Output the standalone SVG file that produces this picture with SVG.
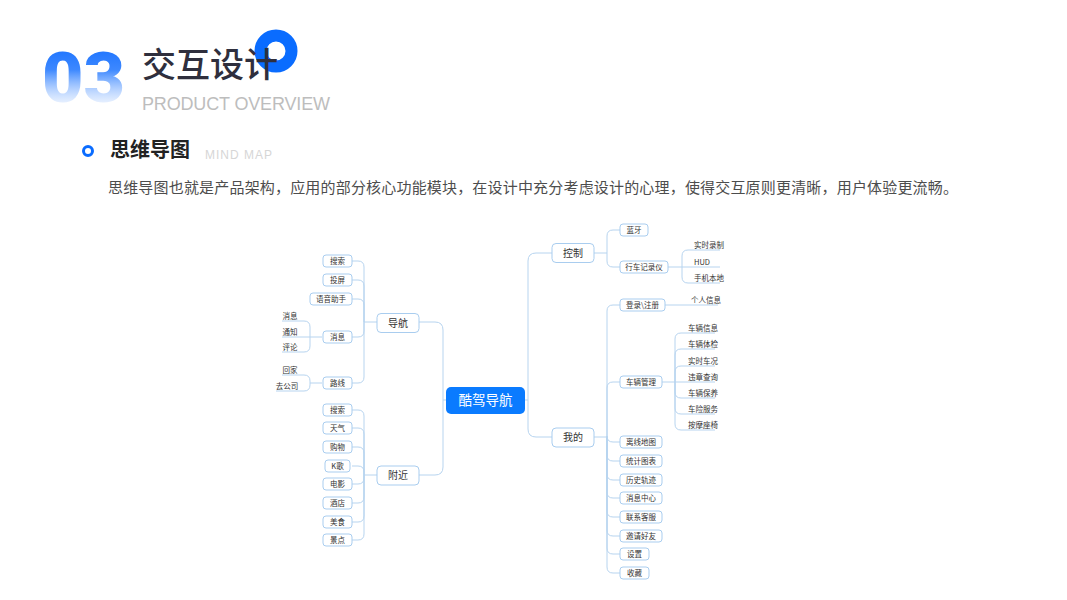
<svg xmlns="http://www.w3.org/2000/svg" width="1067" height="600" viewBox="0 0 1067 600">
<defs>
<linearGradient id="g03" x1="0" y1="0" x2="0" y2="1">
<stop offset="0" stop-color="#0f6bff"/>
<stop offset="0.4" stop-color="#3d88ff"/>
<stop offset="1" stop-color="#ffffff" stop-opacity="0.1"/>
</linearGradient>
<style>
.cn{font-family:"Noto Sans CJK SC","Noto Sans",sans-serif}
.ln{fill:none;stroke:#b7d4ef;stroke-width:1}
.bx{fill:#fff;stroke:#a9cdef;stroke-width:1}
.t8{font-family:"Noto Sans CJK SC","Noto Sans",sans-serif;font-size:7.5px;fill:#333;text-anchor:middle}
.lf{font-family:"Noto Sans CJK SC","Noto Sans",sans-serif;font-size:7.5px;fill:#333}
.t10{font-family:"Noto Sans CJK SC","Noto Sans",sans-serif;font-size:10px;fill:#333;text-anchor:middle}
</style>
</defs>
<rect width="1067" height="600" fill="#ffffff"/>
<g id="header">
<text x="42" y="102" font-family="Roboto,sans-serif" font-weight="900" font-size="70" fill="url(#g03)" textLength="83" lengthAdjust="spacingAndGlyphs">03</text>
<circle cx="276" cy="51" r="15.5" fill="none" stroke="#0a6cff" stroke-width="12"/>
<text x="142" y="77" class="cn" font-size="34" font-weight="500" fill="#2f2f3d">交互设计</text>
<text x="142" y="110" font-family="Liberation Sans,sans-serif" font-size="18" fill="#bdbdbd" textLength="188">PRODUCT OVERVIEW</text>
<circle cx="88" cy="151" r="4.5" fill="none" stroke="#0a6cff" stroke-width="3"/>
<text x="110" y="157" class="cn" font-size="20" font-weight="700" fill="#222">思维导图</text>
<text x="205" y="159" font-family="Liberation Sans,sans-serif" font-size="12" fill="#d6d6d6" textLength="67">MIND MAP</text>
<text x="108" y="193" class="cn" font-size="15" fill="#4d4d4d" textLength="850">思维导图也就是产品架构，应用的部分核心功能模块，在设计中充分考虑设计的心理，使得交互原则更清晰，用户体验更流畅。</text>
</g>
<g id="connectors" class="ln">
<path d="M419 322 H435 Q443 322 443 330 V400 H446"/>
<path d="M419 475 H435 Q443 475 443 467 V400"/>
<path d="M525 400 H528"/>
<path d="M528 400 V261 Q528 253 536 253 H552"/>
<path d="M528 400 V429 Q528 437 536 437 H552"/>
<path d="M352 261 H358 Q364 261 364 267 V322 H377"/>
<path d="M352 280 H358 Q364 280 364 286 V322"/>
<path d="M352 299 H358 Q364 299 364 305 V322"/>
<path d="M352 337 H358 Q364 337 364 331 V322"/>
<path d="M352 383 H358 Q364 383 364 377 V322"/>
<path d="M352 410 H358 Q364 410 364 416 V475 H377"/>
<path d="M352 428 H358 Q364 428 364 434 V475"/>
<path d="M352 447 H358 Q364 447 364 453 V475"/>
<path d="M352 466 H358 Q364 466 364 472 V475"/>
<path d="M352 484 H358 Q364 484 364 478 V475"/>
<path d="M352 503 H358 Q364 503 364 497 V475"/>
<path d="M352 522 H358 Q364 522 364 516 V475"/>
<path d="M352 540 H358 Q364 540 364 534 V475"/>
<path d="M322 337 H282"/>
<path d="M310 337 V327 Q310 321 304 321 H282"/>
<path d="M310 337 V346 Q310 352 304 352 H282"/>
<path d="M322 383 H310"/>
<path d="M310 383 V381 Q310 375 304 375 H282"/>
<path d="M310 383 V385 Q310 391 304 391 H276"/>
<path d="M594 253 H607"/>
<path d="M607 253 V236 Q607 230 613 230 H620"/>
<path d="M607 253 V261 Q607 267 613 267 H620"/>
<path d="M668 267 H720"/>
<path d="M682 267 V256 Q682 250 688 250 H720"/>
<path d="M682 267 V277 Q682 283 688 283 H720"/>
<path d="M594 437 H607"/>
<path d="M607 437 V311 Q607 305 613 305 H620"/>
<path d="M607 437 V388 Q607 382 613 382 H620"/>
<path d="M607 437 V436 Q607 442 613 442 H620"/>
<path d="M607 437 V455 Q607 461 613 461 H620"/>
<path d="M607 437 V474 Q607 480 613 480 H620"/>
<path d="M607 437 V492 Q607 498 613 498 H620"/>
<path d="M607 437 V511 Q607 517 613 517 H620"/>
<path d="M607 437 V530 Q607 536 613 536 H620"/>
<path d="M607 437 V548 Q607 554 613 554 H620"/>
<path d="M607 437 V567 Q607 573 613 573 H620"/>
<path d="M665 305 H718"/>
<path d="M662 382 H715"/>
<path d="M675 382 V339 Q675 333 681 333 H715"/>
<path d="M675 382 V355 Q675 349 681 349 H715"/>
<path d="M675 382 V372 Q675 366 681 366 H715"/>
<path d="M675 382 V392 Q675 398 681 398 H715"/>
<path d="M675 382 V408 Q675 414 681 414 H715"/>
<path d="M675 382 V424 Q675 430 681 430 H715"/>
</g>
<g id="n-center"><rect x="446" y="387" width="79" height="27" rx="5" fill="#0a7bff"/><text x="485.5" y="405" class="cn" font-size="13.5" fill="#fff" text-anchor="middle">酷驾导航</text></g>
<g id="n-daohang"><rect class="bx" x="377" y="313.5" width="42" height="19" rx="4"/><text class="t10" x="398" y="326.5">导航</text></g>
<g id="n-fujin"><rect class="bx" x="377" y="466" width="42" height="19" rx="4"/><text class="t10" x="398" y="479">附近</text></g>
<g id="n-kongzhi"><rect class="bx" x="552" y="243.5" width="42" height="19" rx="4"/><text class="t10" x="573" y="256.5">控制</text></g>
<g id="n-wode"><rect class="bx" x="552" y="428" width="42" height="19" rx="4"/><text class="t10" x="573" y="441">我的</text></g>
<g id="n-dh-sousuo"><rect class="bx" x="323" y="255" width="29" height="12" rx="3"/><text class="t8" x="337.5" y="263.8">搜索</text></g>
<g id="n-dh-touping"><rect class="bx" x="323" y="274" width="29" height="12" rx="3"/><text class="t8" x="337.5" y="282.8">投屏</text></g>
<g id="n-dh-yuyin"><rect class="bx" x="310" y="293" width="42" height="12" rx="3"/><text class="t8" x="331" y="301.8">语音助手</text></g>
<g id="n-dh-xiaoxi"><rect class="bx" x="323" y="331" width="29" height="12" rx="3"/><text class="t8" x="337.5" y="339.8">消息</text></g>
<g id="n-dh-luxian"><rect class="bx" x="323" y="377" width="29" height="12" rx="3"/><text class="t8" x="337.5" y="385.8">路线</text></g>
<g id="l-xiaoxi"><text class="t8" x="290" y="318.5">消息</text></g>
<g id="l-tongzhi"><text class="t8" x="290" y="334.5">通知</text></g>
<g id="l-pinglun"><text class="t8" x="290" y="349.5">评论</text></g>
<g id="l-huijia"><text class="t8" x="290" y="372.5">回家</text></g>
<g id="l-qugongsi"><text class="t8" x="287" y="388.5">去公司</text></g>
<g id="n-fj-sousuo"><rect class="bx" x="323" y="404" width="29" height="12" rx="3"/><text class="t8" x="337.5" y="412.8">搜索</text></g>
<g id="n-fj-tianqi"><rect class="bx" x="323" y="422" width="29" height="12" rx="3"/><text class="t8" x="337.5" y="430.8">天气</text></g>
<g id="n-fj-gouwu"><rect class="bx" x="323" y="441" width="29" height="12" rx="3"/><text class="t8" x="337.5" y="449.8">购物</text></g>
<g id="n-fj-kge"><rect class="bx" x="325" y="460" width="25" height="12" rx="3"/><text class="t8" x="337.5" y="468.8">K歌</text></g>
<g id="n-fj-dianying"><rect class="bx" x="323" y="478" width="29" height="12" rx="3"/><text class="t8" x="337.5" y="486.8">电影</text></g>
<g id="n-fj-jiudian"><rect class="bx" x="323" y="497" width="29" height="12" rx="3"/><text class="t8" x="337.5" y="505.8">酒店</text></g>
<g id="n-fj-meishi"><rect class="bx" x="323" y="516" width="29" height="12" rx="3"/><text class="t8" x="337.5" y="524.8">美食</text></g>
<g id="n-fj-jingdian"><rect class="bx" x="323" y="534" width="29" height="12" rx="3"/><text class="t8" x="337.5" y="542.8">景点</text></g>
<g id="n-lanya"><rect class="bx" x="620" y="224" width="28" height="12" rx="3"/><text class="t8" x="634" y="232.8">蓝牙</text></g>
<g id="n-jiluyi"><rect class="bx" x="620" y="261" width="48" height="12" rx="3"/><text class="t8" x="644" y="269.8">行车记录仪</text></g>
<g id="l-shishi"><text class="lf" x="694" y="248">实时录制</text></g>
<g id="l-hud"><text class="lf" x="694" y="265" font-family="Liberation Sans,sans-serif">HUD</text></g>
<g id="l-shouji"><text class="lf" x="694" y="281">手机本地</text></g>
<g id="n-denglu"><rect class="bx" x="620" y="299" width="45" height="12" rx="3"/><text class="t8" x="642.5" y="307.8">登录\注册</text></g>
<g id="l-geren"><text class="lf" x="691" y="303">个人信息</text></g>
<g id="n-cheliang"><rect class="bx" x="620" y="376" width="42" height="12" rx="3"/><text class="t8" x="641" y="384.8">车辆管理</text></g>
<g id="l-xinxi"><text class="lf" x="688" y="331">车辆信息</text></g>
<g id="l-tijian"><text class="lf" x="688" y="347">车辆体检</text></g>
<g id="l-chekuang"><text class="lf" x="688" y="364">实时车况</text></g>
<g id="l-weizhang"><text class="lf" x="688" y="380">违章查询</text></g>
<g id="l-baoyang"><text class="lf" x="688" y="396">车辆保养</text></g>
<g id="l-chexian"><text class="lf" x="688" y="412">车险服务</text></g>
<g id="l-anmo"><text class="lf" x="688" y="428">按摩座椅</text></g>
<g id="n-lixian"><rect class="bx" x="620" y="436" width="42" height="12" rx="3"/><text class="t8" x="641" y="444.8">离线地图</text></g>
<g id="n-tongji"><rect class="bx" x="620" y="455" width="42" height="12" rx="3"/><text class="t8" x="641" y="463.8">统计图表</text></g>
<g id="n-lishi"><rect class="bx" x="620" y="474" width="42" height="12" rx="3"/><text class="t8" x="641" y="482.8">历史轨迹</text></g>
<g id="n-xxzx"><rect class="bx" x="620" y="492" width="42" height="12" rx="3"/><text class="t8" x="641" y="500.8">消息中心</text></g>
<g id="n-kefu"><rect class="bx" x="620" y="511" width="42" height="12" rx="3"/><text class="t8" x="641" y="519.8">联系客服</text></g>
<g id="n-yaoqing"><rect class="bx" x="620" y="530" width="42" height="12" rx="3"/><text class="t8" x="641" y="538.8">邀请好友</text></g>
<g id="n-shezhi"><rect class="bx" x="620" y="548" width="29" height="12" rx="3"/><text class="t8" x="634.5" y="556.8">设置</text></g>
<g id="n-shoucang"><rect class="bx" x="620" y="567" width="29" height="12" rx="3"/><text class="t8" x="634.5" y="575.8">收藏</text></g>
</svg>
